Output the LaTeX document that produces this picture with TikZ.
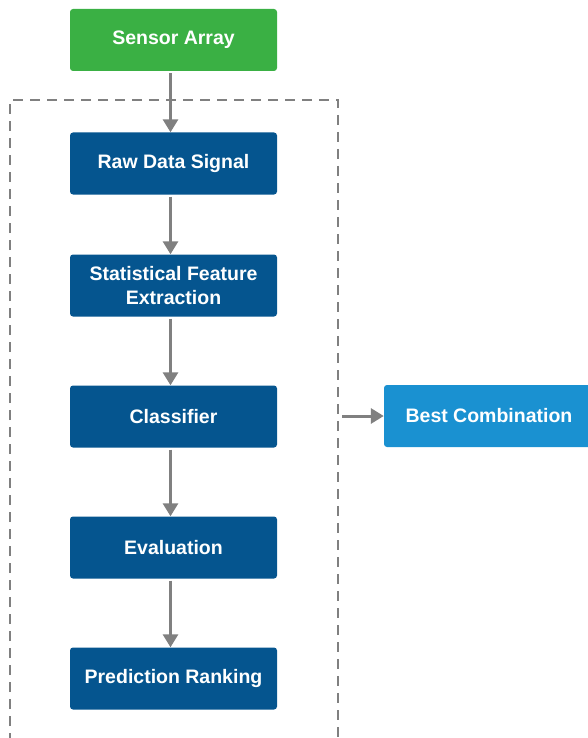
\documentclass[tikz,border=0pt]{standalone}
\usepackage{fontspec}
\setmainfont{Liberation Sans}
\usetikzlibrary{arrows.meta}
\definecolor{boxgreen}{HTML}{3AB044}
\definecolor{boxdark}{HTML}{05558F}
\definecolor{boxlight}{HTML}{1A91D1}
\definecolor{linegray}{HTML}{808080}
\tikzset{
  stepbox/.style={draw=none, rounded corners=3pt, minimum width=207pt, minimum height=62pt,
    text=white, font=\bfseries\fontsize{19.5}{24}\selectfont, align=center, inner sep=0pt},
  flow/.style={draw=linegray, line width=3pt, -{Triangle[length=13pt,width=15pt]}},
  frame/.style={draw=linegray, line width=2.5pt, dash pattern=on 10pt off 7pt}
}
\begin{document}
\begin{tikzpicture}[x=1pt,y=-1pt]
\useasboundingbox (0,0) rectangle (587,738);
\draw[frame] (10,760) -- (10,100) -- (338,100) -- (338,760);
\node[stepbox, fill=boxgreen] (sensor) at (173.5,40) {Sensor Array};
\node[stepbox, fill=boxdark] (raw) at (173.5,163.5) {Raw Data Signal};
\node[stepbox, fill=boxdark] (feat) at (173.5,285.5) {Statistical Feature\\Extraction};
\node[stepbox, fill=boxdark] (clf) at (173.5,416.5) {Classifier};
\node[stepbox, fill=boxdark] (eval) at (173.5,547.5) {Evaluation};
\node[stepbox, fill=boxdark] (rank) at (173.5,678.5) {Prediction Ranking};
\node[stepbox, fill=boxlight, minimum width=210pt] (best) at (489,416) {Best Combination};
\coordinate (framer) at (342,416);
\draw[flow] ([xshift=-3pt]sensor.south) ++(0,2) -- ([xshift=-3pt]raw.north);
\draw[flow] ([xshift=-3pt,yshift=-2pt]raw.south) -- ([xshift=-3pt]feat.north);
\draw[flow] ([xshift=-3pt,yshift=-2pt]feat.south) -- ([xshift=-3pt]clf.north);
\draw[flow] ([xshift=-3pt,yshift=-2pt]clf.south) -- ([xshift=-3pt]eval.north);
\draw[flow] ([xshift=-3pt,yshift=-2pt]eval.south) -- ([xshift=-3pt]rank.north);
\draw[flow] (framer) -- (best.west);
\end{tikzpicture}
\end{document}
